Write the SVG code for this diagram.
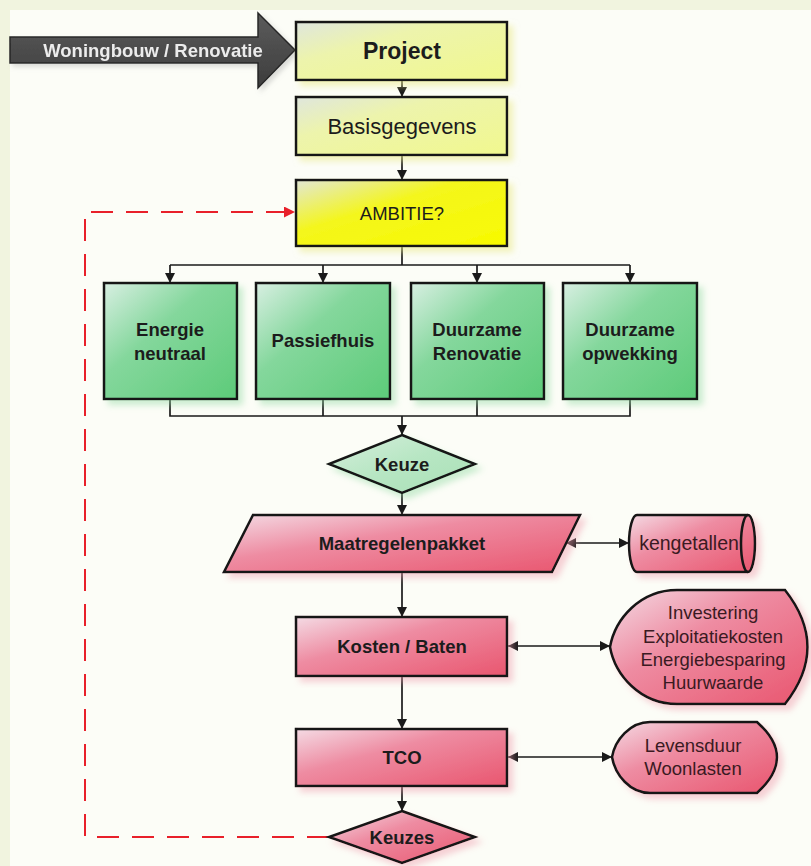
<svg xmlns="http://www.w3.org/2000/svg" width="811" height="866" viewBox="0 0 811 866">
<defs>
<linearGradient id="gY" x1="0" y1="0" x2="1" y2="1"><stop offset="0" stop-color="#dfe6dd"/><stop offset="0.35" stop-color="#edf4ac"/><stop offset="1" stop-color="#f1f88e"/></linearGradient>
<linearGradient id="gA" x1="0" y1="0" x2="1" y2="1"><stop offset="0" stop-color="#e2e7d6"/><stop offset="0.4" stop-color="#f4f61c"/><stop offset="1" stop-color="#f8fa00"/></linearGradient>
<linearGradient id="gG" x1="0" y1="0" x2="1" y2="1"><stop offset="0" stop-color="#d8efe2"/><stop offset="0.4" stop-color="#84d79c"/><stop offset="1" stop-color="#5dcb79"/></linearGradient>
<linearGradient id="gK" x1="0" y1="0" x2="1" y2="1"><stop offset="0" stop-color="#d6efdd"/><stop offset="0.5" stop-color="#b7e6c3"/><stop offset="1" stop-color="#a9e0b6"/></linearGradient>
<linearGradient id="gP" x1="0" y1="0" x2="1" y2="1"><stop offset="0" stop-color="#f4dbe4"/><stop offset="0.4" stop-color="#ee8ca2"/><stop offset="1" stop-color="#e9566f"/></linearGradient>
<linearGradient id="gD" x1="0" y1="0" x2="0" y2="1"><stop offset="0" stop-color="#5c5c5c"/><stop offset="1" stop-color="#3c3c3c"/></linearGradient>
<filter id="shY" x="-10%" y="-10%" width="130%" height="130%"><feDropShadow dx="5" dy="5" stdDeviation="3" flood-color="#e9e98a" flood-opacity="0.55"/></filter>
<filter id="shG" x="-10%" y="-10%" width="130%" height="130%"><feDropShadow dx="5" dy="5" stdDeviation="3" flood-color="#8fd9a2" flood-opacity="0.45"/></filter>
<filter id="shP" x="-10%" y="-10%" width="130%" height="130%"><feDropShadow dx="5" dy="5" stdDeviation="3" flood-color="#ee9aab" flood-opacity="0.45"/></filter>
<filter id="shD" x="-10%" y="-20%" width="130%" height="150%"><feDropShadow dx="3" dy="3" stdDeviation="2.5" flood-color="#999" flood-opacity="0.35"/></filter>
<marker id="ah" viewBox="0 0 10 10" refX="10" refY="5" markerWidth="10" markerHeight="10" markerUnits="userSpaceOnUse" orient="auto-start-reverse"><path d="M0,0 L10,5 L0,10 Z" fill="#1a1a1a"/></marker>
<marker id="ahR" viewBox="0 0 10 10" refX="10" refY="5" markerWidth="11" markerHeight="11" markerUnits="userSpaceOnUse" orient="auto"><path d="M0,0 L10,5 L0,10 Z" fill="#e8202a"/></marker>
</defs>
<style>
.box{stroke:#161616;stroke-width:2.5;stroke-linejoin:miter}
.t{font-family:"Liberation Sans",Arial,sans-serif;font-size:18.5px;fill:#1c1c1c;text-anchor:middle;dominant-baseline:central}
.b{font-weight:bold}
.tp{fill:#3a1a22}
.ln{fill:none;stroke:#1a1a1a;stroke-width:1.7}
.arr{marker-end:url(#ah)}
.dbl{marker-start:url(#ah);marker-end:url(#ah)}
.red{fill:none;stroke:#e8202a;stroke-width:2;stroke-dasharray:22 13;marker-end:url(#ahR)}
</style>
<rect x="0" y="0" width="811" height="866" fill="#f1f4df"/>
<rect x="10" y="10" width="801" height="856" fill="#fcfdf7"/>

<g id="connectors">
<line class="ln arr" x1="402" y1="80" x2="402" y2="97"/>
<line class="ln arr" x1="402" y1="155" x2="402" y2="180"/>
<polyline class="ln" points="402,246 402,265"/>
<line class="ln" x1="170" y1="265" x2="630" y2="265"/>
<line class="ln arr" x1="170" y1="265" x2="170" y2="283"/>
<line class="ln arr" x1="323" y1="265" x2="323" y2="283"/>
<line class="ln arr" x1="477" y1="265" x2="477" y2="283"/>
<line class="ln arr" x1="630" y1="265" x2="630" y2="283"/>
<polyline class="ln" points="170,399 170,416 630,416 630,399"/>
<line class="ln" x1="323" y1="399" x2="323" y2="416"/>
<line class="ln" x1="477" y1="399" x2="477" y2="416"/>
<line class="ln arr" x1="402" y1="416" x2="402" y2="435"/>
<line class="ln arr" x1="402" y1="493" x2="402" y2="515"/>
<line class="ln dbl" x1="566" y1="543" x2="629" y2="543"/>
<line class="ln arr" x1="402" y1="572" x2="402" y2="617"/>
<line class="ln dbl" x1="508" y1="646" x2="610" y2="646"/>
<line class="ln arr" x1="402" y1="676" x2="402" y2="729"/>
<line class="ln dbl" x1="508" y1="757" x2="612" y2="757"/>
<line class="ln arr" x1="402" y1="786" x2="402" y2="811"/>
<polyline class="red" points="329,837 85,837 85,212 295,212"/>
</g>

<g id="woningbouw" filter="url(#shD)">
<path d="M10,37 H258 V13 L295,50 L258,88 V63 H10 Z" fill="url(#gD)" stroke="#262626" stroke-width="1.5"/>
<text class="t b" x="153" y="50" style="fill:#ececec;font-size:18.5px">Woningbouw / Renovatie</text>
</g>
<g id="project">
<rect class="box" x="296" y="22" width="211" height="58" fill="url(#gY)" filter="url(#shY)"/>
<text class="t b" x="402" y="51" style="font-size:23px">Project</text>
</g>
<g id="basisgegevens">
<rect class="box" x="296" y="97" width="211" height="58" fill="url(#gY)" filter="url(#shY)"/>
<text class="t" x="402" y="126" style="font-size:22px">Basisgegevens</text>
</g>
<g id="ambitie">
<rect class="box" x="296" y="180" width="211" height="66" fill="url(#gA)" filter="url(#shY)"/>
<text class="t" x="402" y="213" style="font-size:18.5px">AMBITIE?</text>
</g>
<g id="energie-neutraal">
<rect class="box" x="104" y="283" width="133" height="116" fill="url(#gG)" filter="url(#shG)"/>
<text class="t b" x="170" y="329">Energie</text>
<text class="t b" x="170" y="353">neutraal</text>
</g>
<g id="passiefhuis">
<rect class="box" x="256" y="283" width="134" height="116" fill="url(#gG)" filter="url(#shG)"/>
<text class="t b" x="323" y="340">Passiefhuis</text>
</g>
<g id="duurzame-renovatie">
<rect class="box" x="411" y="283" width="133" height="116" fill="url(#gG)" filter="url(#shG)"/>
<text class="t b" x="477" y="329">Duurzame</text>
<text class="t b" x="477" y="353">Renovatie</text>
</g>
<g id="duurzame-opwekking">
<rect class="box" x="563" y="283" width="134" height="116" fill="url(#gG)" filter="url(#shG)"/>
<text class="t b" x="630" y="329">Duurzame</text>
<text class="t b" x="630" y="353">opwekking</text>
</g>
<g id="keuze">
<path class="box" d="M402,435 L475,464 L402,493 L329,464 Z" fill="url(#gK)" filter="url(#shG)"/>
<text class="t b" x="402" y="464">Keuze</text>
</g>
<g id="maatregelenpakket">
<path class="box" d="M253,515 H580 L552,572 H224 Z" fill="url(#gP)" filter="url(#shP)"/>
<text class="t b" x="402" y="543">Maatregelenpakket</text>
</g>
<g id="kengetallen">
<path class="box" d="M637,515 H748 A7,28.5 0 0 1 748,572 H637 A8,28.5 0 0 1 637,515 Z" fill="url(#gP)" filter="url(#shP)"/>
<path d="M748,515 A7,28.5 0 0 0 748,572" fill="none" stroke="#161616" stroke-width="2.5"/>
<text class="t tp" x="689" y="543" style="font-size:19.5px">kengetallen</text>
</g>
<g id="kosten-baten">
<rect class="box" x="296" y="617" width="211" height="59" fill="url(#gP)" filter="url(#shP)"/>
<text class="t b" x="402" y="646">Kosten / Baten</text>
</g>
<g id="investering">
<path class="box" d="M677,590 H785 Q830,647 785,704 H677 C640,704 615,675 610,647 C615,619 640,590 677,590 Z" fill="url(#gP)" filter="url(#shP)"/>
<text class="t tp" x="713" y="612">Investering</text>
<text class="t tp" x="713" y="636">Exploitatiekosten</text>
<text class="t tp" x="713" y="659">Energiebesparing</text>
<text class="t tp" x="713" y="682">Huurwaarde</text>
</g>
<g id="tco">
<rect class="box" x="296" y="729" width="211" height="57" fill="url(#gP)" filter="url(#shP)"/>
<text class="t b" x="402" y="757">TCO</text>
</g>
<g id="levensduur">
<path class="box" d="M650,722 H757 Q797,757 757,793 H650 C630,793 615,775 612,757 C615,740 630,722 650,722 Z" fill="url(#gP)" filter="url(#shP)"/>
<text class="t tp" x="693" y="745">Levensduur</text>
<text class="t tp" x="693" y="768">Woonlasten</text>
</g>
<g id="keuzes">
<path class="box" d="M402,811 L475,837 L402,863 L329,837 Z" fill="url(#gP)" filter="url(#shP)"/>
<text class="t b" x="402" y="837">Keuzes</text>
</g>
</svg>
